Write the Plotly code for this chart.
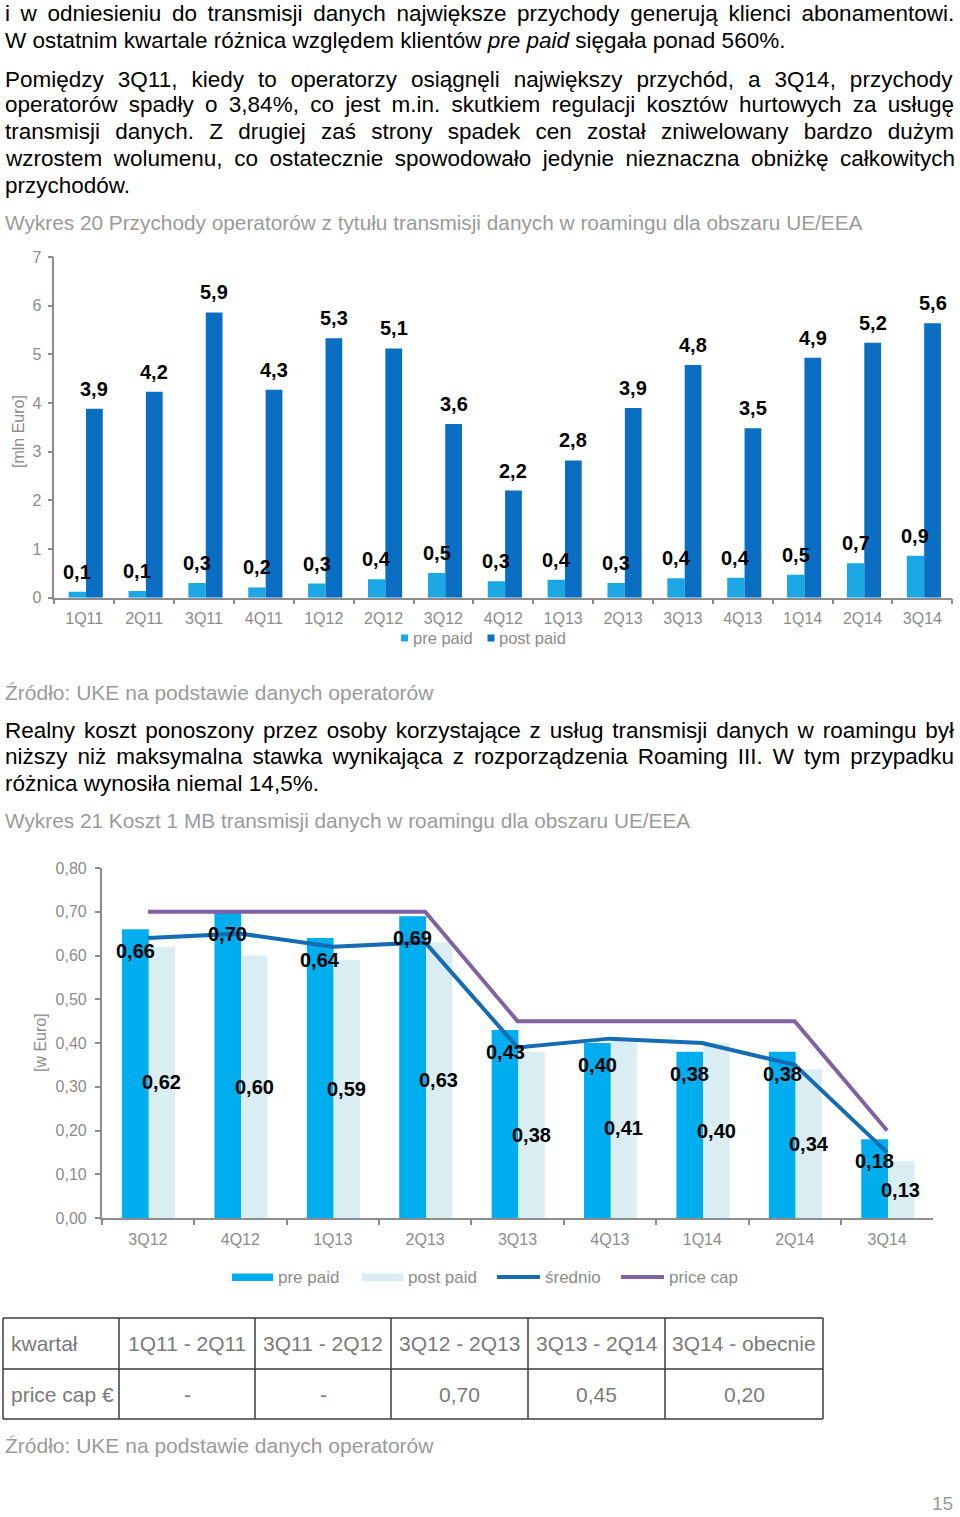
import re
import plotly.graph_objects as go

W, H = 960, 1517

# ---------------- data ----------------
quarters1 = ["1Q11", "2Q11", "3Q11", "4Q11", "1Q12", "2Q12", "3Q12", "4Q12",
             "1Q13", "2Q13", "3Q13", "4Q13", "1Q14", "2Q14", "3Q14"]
prepaid1 = [0.12, 0.14, 0.30, 0.21, 0.29, 0.38, 0.51, 0.34, 0.37, 0.30, 0.40, 0.41, 0.47, 0.71, 0.86]
postpaid1 = [3.88, 4.23, 5.86, 4.27, 5.33, 5.12, 3.57, 2.20, 2.82, 3.90, 4.78, 3.48, 4.93, 5.24, 5.64]

quarters2 = ["3Q12", "4Q12", "1Q13", "2Q13", "3Q13", "4Q13", "1Q14", "2Q14", "3Q14"]
prepaid2 = [0.66, 0.70, 0.64, 0.69, 0.43, 0.40, 0.38, 0.38, 0.18]
postpaid2 = [0.62, 0.60, 0.59, 0.63, 0.38, 0.41, 0.40, 0.34, 0.13]
average2 = [0.64, 0.65, 0.62, 0.63, 0.39, 0.41, 0.40, 0.35, 0.15]
pricecap2 = [0.70, 0.70, 0.70, 0.70, 0.45, 0.45, 0.45, 0.45, 0.20]

table_header = ["kwartał", "1Q11 - 2Q11", "3Q11 - 2Q12", "3Q12 - 2Q13", "3Q13 - 2Q14", "3Q14 - obecnie"]
table_row = ["price cap €", "-", "-", "0,70", "0,45", "0,20"]

para1 = [
    "i w odniesieniu do transmisji danych największe przychody generują klienci abonamentowi.",
    "W ostatnim kwartale różnica względem klientów <i>pre paid</i> sięgała ponad 560%.",
]
para2 = [
    "Pomiędzy 3Q11, kiedy to operatorzy osiągnęli największy przychód, a 3Q14, przychody",
    "operatorów spadły o 3,84%, co jest m.in. skutkiem regulacji kosztów hurtowych za usługę",
    "transmisji danych. Z drugiej zaś strony spadek cen został zniwelowany bardzo dużym",
    "wzrostem wolumenu, co ostatecznie spowodowało jedynie nieznaczna obniżkę całkowitych",
    "przychodów.",
]
para3 = [
    "Realny koszt ponoszony przez osoby korzystające z usług transmisji danych w roamingu był",
    "niższy niż maksymalna stawka wynikająca z rozporządzenia Roaming III. W tym przypadku",
    "różnica wynosiła niemal 14,5%.",
]
caption1 = "Wykres 20 Przychody operatorów z tytułu transmisji danych w roamingu dla obszaru UE/EEA"
caption2 = "Wykres 21 Koszt 1 MB transmisji danych w roamingu dla obszaru UE/EEA"
source = "Źródło: UKE na podstawie danych operatorów"

# ---------------- styles ----------------
FONT = "Liberation Sans, Arial, Helvetica, sans-serif"
GRAY = "#8c8c8c"
CAPGRAY = "#9a9a9a"
C1_PRE = "#1aa7e4"
C1_POST = "#0a6fc2"
C2_PRE = "#00aeef"
C2_POST = "#daedf3"
C2_AVG = "#156cb2"
C2_CAP = "#7f62a1"
BODY = 22.5

# approximate Arial / Liberation Sans advance widths (1/1000 em) for justification
_AW = {" ": 278, ",": 278, ".": 278, "%": 889, "-": 333, "/": 278, ":": 278,
       "A": 667, "B": 667, "C": 722, "D": 722, "E": 667, "F": 611, "G": 778, "H": 722, "I": 278,
       "J": 500, "K": 667, "L": 556, "M": 833, "N": 722, "O": 778, "P": 667, "Q": 778, "R": 722,
       "S": 667, "T": 611, "U": 722, "V": 667, "W": 944, "X": 667, "Y": 667, "Z": 611,
       "a": 556, "b": 556, "c": 500, "d": 556, "e": 556, "f": 278, "g": 556, "h": 556, "i": 222,
       "j": 222, "k": 500, "l": 222, "m": 833, "n": 556, "o": 556, "p": 556, "q": 556, "r": 333,
       "s": 500, "t": 278, "u": 556, "v": 500, "w": 722, "x": 500, "y": 500, "z": 500,
       "ą": 556, "ć": 500, "ę": 556, "ł": 222, "ń": 556, "ó": 556, "ś": 500, "ź": 500, "ż": 500}


def est_width(s, size):
    plain = re.sub(r"<[^>]+>", "", s)
    return sum(_AW.get(ch, 556) for ch in plain) / 1000.0 * size


def px(x):
    return x / W


def py(y):
    return 1 - y / H


def fmt(v, d):
    return f"{v:.{d}f}".replace(".", ",")


fig = go.Figure()

# chart 1 bars
fig.add_bar(x=quarters1, y=prepaid1, width=0.29, offset=-0.26, marker_color=C1_PRE,
            marker_line_width=0, name="pre paid", xaxis="x", yaxis="y", showlegend=False)
fig.add_bar(x=quarters1, y=postpaid1, width=0.28, offset=0.03, marker_color=C1_POST,
            marker_line_width=0, name="post paid", xaxis="x", yaxis="y", showlegend=False)

# chart 2 bars and lines
fig.add_bar(x=quarters2, y=prepaid2, width=0.29, offset=-0.28, marker_color=C2_PRE,
            marker_line_width=0, name="pre paid", xaxis="x2", yaxis="y2", showlegend=False)
fig.add_bar(x=quarters2, y=postpaid2, width=0.285, offset=0.01, marker_color=C2_POST,
            marker_line_width=0, name="post paid", xaxis="x2", yaxis="y2", showlegend=False)
fig.add_scatter(x=quarters2, y=average2, mode="lines", line=dict(color=C2_AVG, width=4),
                name="średnio", xaxis="x2", yaxis="y2", showlegend=False)
fig.add_scatter(x=quarters2, y=pricecap2, mode="lines", line=dict(color=C2_CAP, width=4),
                name="price cap", xaxis="x2", yaxis="y2", showlegend=False)

annotations = []
shapes = []
LBL = dict(family=FONT, size=20, color="black", weight="bold")

# data labels chart 1
for i, (a, b) in enumerate(zip(prepaid1, postpaid1)):
    annotations.append(dict(x=i - 0.115, y=a, xref="x", yref="y", text=fmt(a, 1), showarrow=False,
                            yanchor="middle", yshift=20, font=LBL))
    annotations.append(dict(x=i + 0.17, y=b, xref="x", yref="y", text=fmt(b, 1), showarrow=False,
                            yanchor="middle", yshift=20, font=LBL))

# data labels chart 2
for i, (a, b) in enumerate(zip(prepaid2, postpaid2)):
    annotations.append(dict(x=i - 0.135, y=a, xref="x2", yref="y2", text=fmt(a, 2), showarrow=False,
                            yanchor="middle", yshift=-22, font=LBL))
    annotations.append(dict(x=i + 0.15, y=b / 2, xref="x2", yref="y2", text=fmt(b, 2), showarrow=False,
                            yanchor="middle", font=LBL))


def text_line(txt, x, y, size=BODY, color="black", anchor="left", justify_to=None):
    if justify_to is not None:
        gaps = txt.count(" ")
        extra = (justify_to - x - est_width(txt, size)) / max(gaps, 1)
        txt = f'<span style="word-spacing:{extra:.2f}px">{txt}</span>'
    annotations.append(dict(x=px(x), y=py(y), xref="paper", yref="paper", text=txt, showarrow=False,
                            xanchor=anchor, yanchor="middle", font=dict(family=FONT, size=size, color=color)))


RIGHT = 952
for k, (t, y) in enumerate(zip(para1, [13, 40])):
    text_line(t, 3, y, justify_to=RIGHT if k < len(para1) - 1 else None)
for k, (t, y) in enumerate(zip(para2, [79, 105, 132, 158, 185])):
    text_line(t, 3, y, justify_to=RIGHT if k < len(para2) - 1 else None)
text_line(caption1, 3, 222, size=20.8, color=CAPGRAY)
text_line(source, 3, 692, size=21, color=CAPGRAY)
for k, (t, y) in enumerate(zip(para3, [730, 756, 783])):
    text_line(t, 3, y, justify_to=RIGHT if k < len(para3) - 1 else None)
text_line(caption2, 3, 821, size=20.8, color=CAPGRAY)
text_line(source, 3, 1445, size=21, color=CAPGRAY)
text_line("15", 955, 1503, size=19, color=CAPGRAY, anchor="right")

# y-axis titles
annotations.append(dict(x=px(18), y=py(432), xref="paper", yref="paper", text="[mln Euro]", textangle=-90,
                        xanchor="center", yanchor="middle", showarrow=False,
                        font=dict(family=FONT, size=16, color=GRAY)))
annotations.append(dict(x=px(40), y=py(1043), xref="paper", yref="paper", text="[w Euro]", textangle=-90,
                        xanchor="center", yanchor="middle", showarrow=False,
                        font=dict(family=FONT, size=16, color=GRAY)))

# legend chart 1
for (x0, label, col) in [(401, "pre paid", C1_PRE), (487.5, "post paid", C1_POST)]:
    shapes.append(dict(type="rect", xref="paper", yref="paper", x0=px(x0), x1=px(x0 + 7),
                       y0=py(641.5), y1=py(634.5), fillcolor=col, line=dict(width=0)))
    text_line(label, x0 + 9.5, 638, size=16.5, color=GRAY)

# legend chart 2
for (x0, label, col, kind) in [(232, "pre paid", C2_PRE, "rect"), (362, "post paid", C2_POST, "rect"),
                               (497, "średnio", C2_AVG, "line"), (621, "price cap", C2_CAP, "line")]:
    if kind == "rect":
        shapes.append(dict(type="rect", xref="paper", yref="paper", x0=px(x0), x1=px(x0 + 41),
                           y0=py(1281), y1=py(1273.5), fillcolor=col, line=dict(width=0)))
    else:
        shapes.append(dict(type="line", xref="paper", yref="paper", x0=px(x0), x1=px(x0 + 43),
                           y0=py(1277), y1=py(1277), line=dict(color=col, width=4)))
    text_line(label, x0 + (44 if kind == "rect" else 46), 1277, size=17, color=GRAY)

# table
col_edges = [3, 119, 255, 391, 528, 665, 823]
row_edges = [1318, 1369, 1419]
for x in col_edges:
    shapes.append(dict(type="line", xref="paper", yref="paper", x0=px(x), x1=px(x),
                       y0=py(row_edges[0]), y1=py(row_edges[-1]), line=dict(color="#3c3c3c", width=1.5)))
for y in row_edges:
    shapes.append(dict(type="line", xref="paper", yref="paper", x0=px(col_edges[0]), x1=px(col_edges[-1]),
                       y0=py(y), y1=py(y), line=dict(color="#3c3c3c", width=1.5)))
for r, row in enumerate([table_header, table_row]):
    yc = (row_edges[r] + row_edges[r + 1]) / 2
    for c, val in enumerate(row):
        if c == 0:
            text_line(val, col_edges[0] + 6, yc, size=21, color="#7a7a7a")
        else:
            text_line(val, (col_edges[c] + col_edges[c + 1]) / 2, yc, size=21, color="#7a7a7a", anchor="center")

axis_common = dict(showline=True, linecolor=GRAY, linewidth=1.5, ticks="outside", tickcolor=GRAY,
                   ticklen=5, tickwidth=1.5, showgrid=False, zeroline=False, fixedrange=True,
                   automargin=False, tickfont=dict(family=FONT, size=16, color=GRAY))

fig.update_layout(
    width=W, height=H, margin=dict(l=0, r=0, t=0, b=0, pad=0, autoexpand=False),
    paper_bgcolor="white", plot_bgcolor="white",
    barmode="overlay", separators=", ", showlegend=False,
    xaxis=dict(domain=[px(54.3), px(952.3)], anchor="y", type="category", tickson="boundaries",
               ticklabelstandoff=5, **axis_common),
    yaxis=dict(domain=[py(597.7), py(257)], anchor="x", range=[0, 7], dtick=1, ticklabelstandoff=3, **axis_common),
    xaxis2=dict(domain=[px(101.7), px(933.3)], anchor="y2", type="category", tickson="boundaries",
                ticklabelstandoff=6, **axis_common),
    yaxis2=dict(domain=[py(1218), py(868)], anchor="x2", range=[0, 0.8], dtick=0.1, tickformat=".2f",
                ticklabelstandoff=5, **axis_common),
    annotations=annotations, shapes=shapes,
)

fig.write_html("out.html", config={"displayModeBar": False},
               post_script="document.body.style.margin='0px';document.body.style.padding='0px';"
                           "document.body.style.overflow='hidden';")
